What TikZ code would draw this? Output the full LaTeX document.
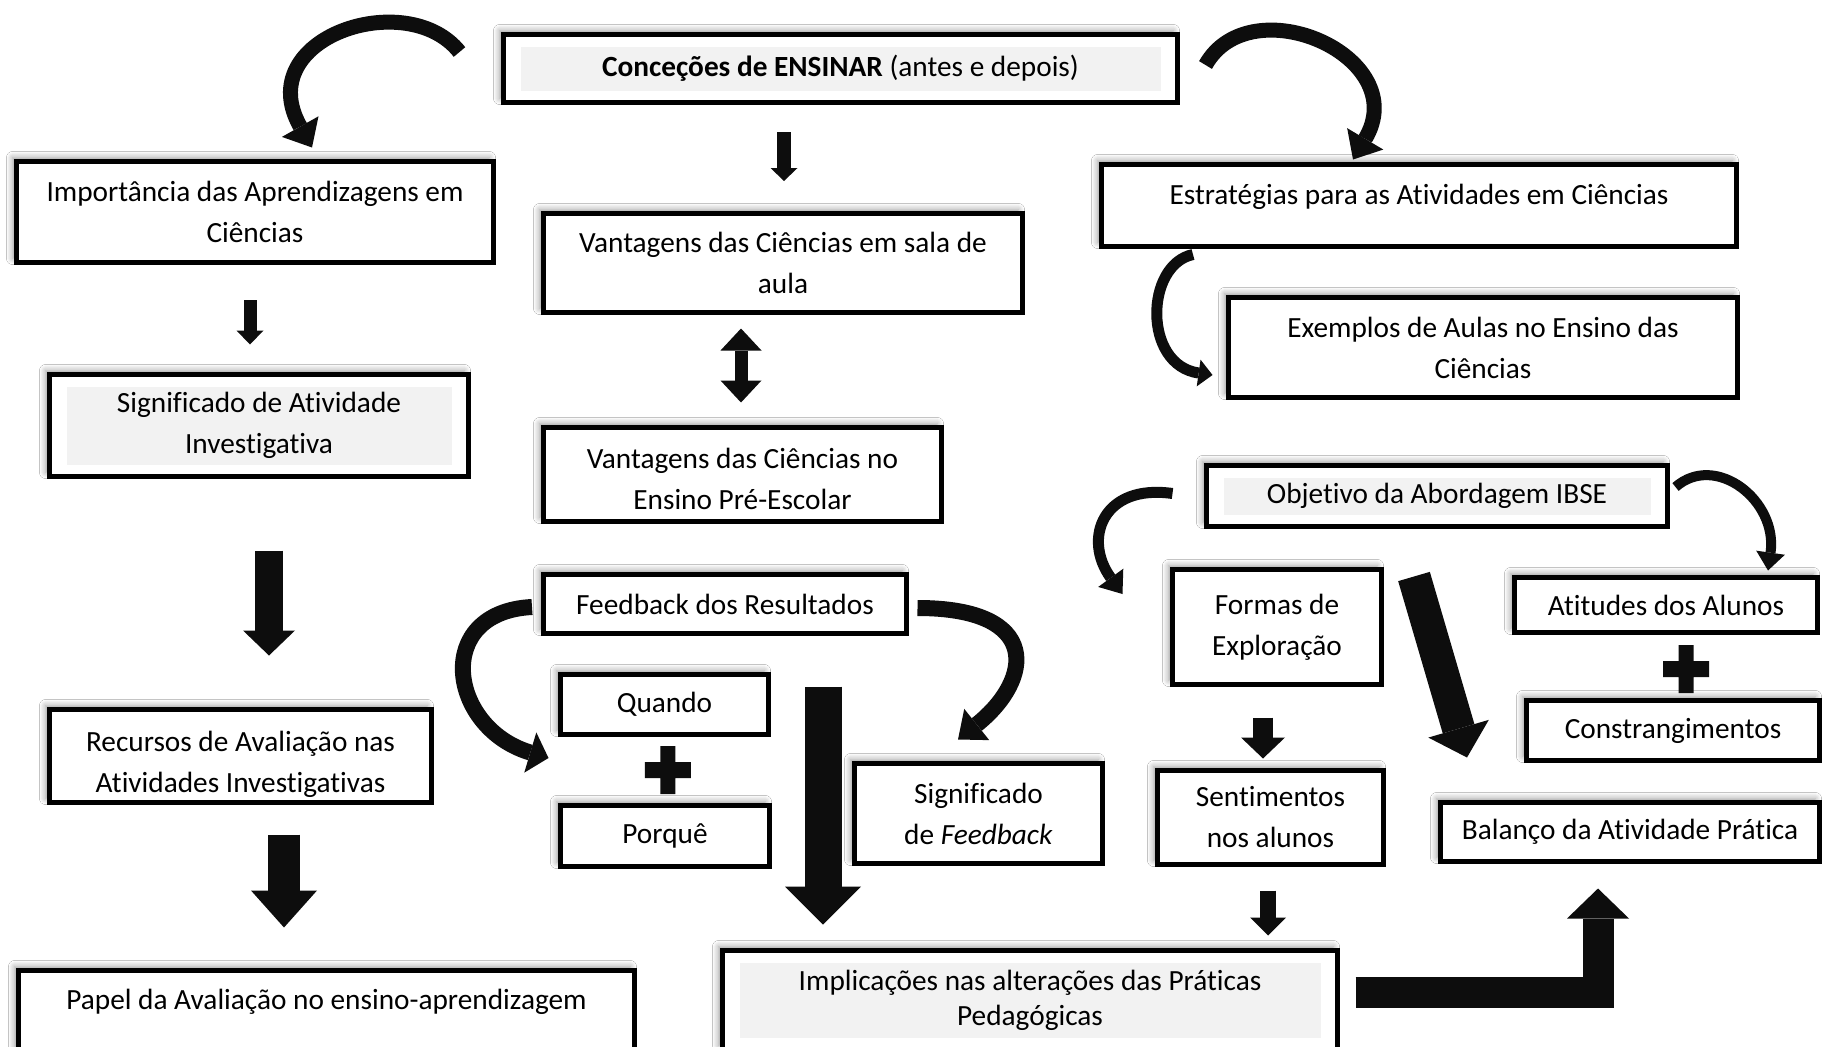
\documentclass[tikz,border=0pt]{standalone}
\usepackage{fontspec}
\setmainfont{Carlito}[Ligatures=CommonOff]
\usetikzlibrary{arrows.meta,calc,shadows.blur}
\definecolor{boxgray}{HTML}{F2F2F2}
\definecolor{ink}{HTML}{0D0D0D}
\tikzset{
  box/.style={draw=black, line width=5pt, fill=white, inner sep=0pt, align=center,
    font=\fontsize{29.3}{41}\selectfont,
    blur shadow={shadow xshift=-4pt, shadow yshift=4pt, shadow blur radius=6pt,
      shadow blur steps=8, shadow opacity=40}},
  grayin/.style={path picture={\fill[boxgray]
    ($(path picture bounding box.north west)+(17,12)$) rectangle
    ($(path picture bounding box.south east)+(-17,-12)$);}},
  blockarr/.style n args={3}{draw=ink, line width=#1pt,
    -{Triangle[length=#3pt 0 0, width=#2pt 0 0, line width=0pt]}},
  curvearr/.style n args={3}{draw=ink, line width=#1pt,
    -{Triangle[length=#3pt 0 0, width=#2pt 0 0, line width=0pt]}},
}
\newcommand\plussign[1]{\fill[ink] #1 +(-23,-8) rectangle +(23,8) #1 +(-7.5,-24) rectangle +(7.5,24);}

\begin{document}
\begin{tikzpicture}[x=1pt,y=-1pt]
\useasboundingbox (0,0) rectangle (1824,1047);
\fill[white] (0,0) rectangle (1824,1047);
% caixas
\node[box,grayin,minimum width=674pt,minimum height=68pt] (conc) at (840.5,68.5) {\textbf{Conceções de ENSINAR} (antes e depois)};
\node[box,minimum width=477pt,minimum height=101pt] (imp) at (255,212) {Importância das Aprendizagens em\\Ciências};
\node[box,minimum width=479pt,minimum height=99pt] (vsala) at (783,263) {Vantagens das Ciências em sala de\\aula};
\node[box,minimum width=635pt,minimum height=82pt,text depth=23pt] (estr) at (1419,205.5) {Estratégias para as Atividades em Ciências};
\node[box,minimum width=509pt,minimum height=100pt] (exem) at (1483,347.5) {Exemplos de Aulas no Ensino das\\Ciências};
\node[box,grayin,minimum width=419pt,minimum height=102pt] (sigativ) at (259,425.5) {Significado de Atividade\\Investigativa};
\node[box,minimum width=398pt,minimum height=94pt,text height=71pt] (vpre) at (742.5,474.5) {Vantagens das Ciências no\\Ensino Pré-Escolar};
\node[box,grayin,minimum width=461pt,minimum height=61pt] (obj) at (1437,496) {Objetivo da Abordagem IBSE};
\node[box,minimum width=363pt,minimum height=59pt] (feed) at (725,604) {Feedback dos Resultados};
\node[box,minimum width=209pt,minimum height=115pt] (formas) at (1277,627) {Formas de\\Exploração};
\node[box,minimum width=303pt,minimum height=55pt] (atit) at (1666,605) {Atitudes dos Alunos};
\node[box,minimum width=208pt,minimum height=60pt] (quando) at (664.5,704.5) {Quando};
\node[box,minimum width=209pt,minimum height=61pt] (porque) at (665,836) {Porquê};
\node[box,minimum width=382pt,minimum height=93pt,text height=78pt] (recur) at (240.5,756) {Recursos de Avaliação nas\\Atividades Investigativas};
\node[box,minimum width=248pt,minimum height=100pt] (sigfeed) at (978.5,813.5) {Significado\\de \textit{Feedback}};
\node[box,minimum width=293pt,minimum height=60pt] (constr) at (1673,730.5) {Constrangimentos};
\node[box,minimum width=226pt,minimum height=94pt] (sent) at (1270.5,817.5) {Sentimentos\\nos alunos};
\node[box,minimum width=379pt,minimum height=59pt] (balanco) at (1630,832) {Balanço da Atividade Prática};
\node[box,minimum width=616pt,minimum height=82pt,text depth=24pt] (papel) at (326.5,1011.5) {Papel da Avaliação no ensino-aprendizagem};
\node[box,grayin,minimum width=615pt,minimum height=99pt] (impl) at (1030,1000) {Implicações nas alterações das Práticas\\[-6pt]Pedagógicas};
% setas retas
\draw[blockarr={14}{27}{13}] ($(vsala.north |- conc.south)+(1,27)$) -- ($(vsala.north)+(1,-30)$);
\draw[blockarr={13}{27}{14}] ($(imp.south)+(-5,35)$) -- ($(sigativ.north)+(-9,-27.5)$);
\draw[draw=ink,line width=13pt,{Triangle[length=22pt 0 0,width=41pt 0 0,line width=0pt]}-{Triangle[length=22pt 0 0,width=41pt 0 0,line width=0pt]}]
  ($(vpre.north |- vsala.south)+(-1.5,13.5)$) -- ($(vpre.north)+(-1.5,-22.5)$);
\draw[blockarr={28}{52}{25}] ($(sigativ.south)+(10,71.5)$) -- ($(recur.north)+(28.5,-51.5)$);
\draw[blockarr={32}{66}{37}] ($(recur.south)+(43.5,29.5)$) -- ($(papel.north)+(-42.5,-40.5)$);
\draw[blockarr={37}{76}{38}] ($(feed.south)+(98,50.5)$) -- ($(impl.north)+(-207,-23.5)$);
\draw[blockarr={20}{44}{21}] ($(formas.south)+(-14,30.5)$) -- ($(sent.north)+(-7.5,-9.5)$);
\draw[blockarr={16}{36}{18}] ($(sent.south)+(-2.5,23.5)$) -- ($(sent.south |- impl.north)+(-2.5,-12.5)$);
\draw[blockarr={33}{63}{30}] ($(obj.south)+(-23,47.5)$) -- ($(balanco.north)+(-163,-42.5)$);
\draw[blockarr={31}{62}{30}] ($(impl.east)+(15.5,-8)$) -| ($(balanco.south)+(-32,24.5)$);
% setas curvas
\draw[curvearr={15}{42}{24}] ($(conc.west)+(-41.5,-16.5)$) .. controls +(-52,-66) and +(-62,-110) .. ($(imp.north)+(57,-11.5)$);
\draw[curvearr={15}{42}{24}] ($(conc.east)+(25.5,-3.5)$) .. controls +(45,-80) and +(61,-103) .. ($(estr.north)+(-66,-2.5)$);
\draw[curvearr={11}{27}{14}] ($(estr.south)+(-226,5.5)$) .. controls +(-48,10) and +(-70,-10) .. ($(exem.west)+(-13.5,27.5)$);
\draw[curvearr={16}{42}{19}] ($(feed.west)+(-9,3)$) .. controls +(-100,5) and +(-100,-30) .. ($(quando.west)+(-9.5,53.5)$);
\draw[curvearr={16}{40}{24}] ($(feed.east)+(8.5,4)$) .. controls +(125,0) and +(75,-60) .. ($(sigfeed.north)+(-20.5,-21.5)$);
\draw[curvearr={11}{31}{20}] ($(obj.west)+(-31.5,-2.5)$) .. controls +(-70,-10) and +(-40,-55) .. ($(formas.west)+(-47.5,-33)$);
\draw[curvearr={10}{29}{18}] ($(obj.east)+(5.5,-9)$) .. controls +(40,-35) and +(10,-70) .. ($(atit.north)+(102,-4.5)$);
% sinais de mais
\coordinate (plusA) at ($(quando.south)!0.5!(porque.north)+(3,0)$);
\coordinate (plusB) at ($(atit.south)!0.5!(constr.north)+(16.5,2.5)$);
\plussign{(plusA)}
\plussign{(plusB)}
\end{tikzpicture}
\end{document}
